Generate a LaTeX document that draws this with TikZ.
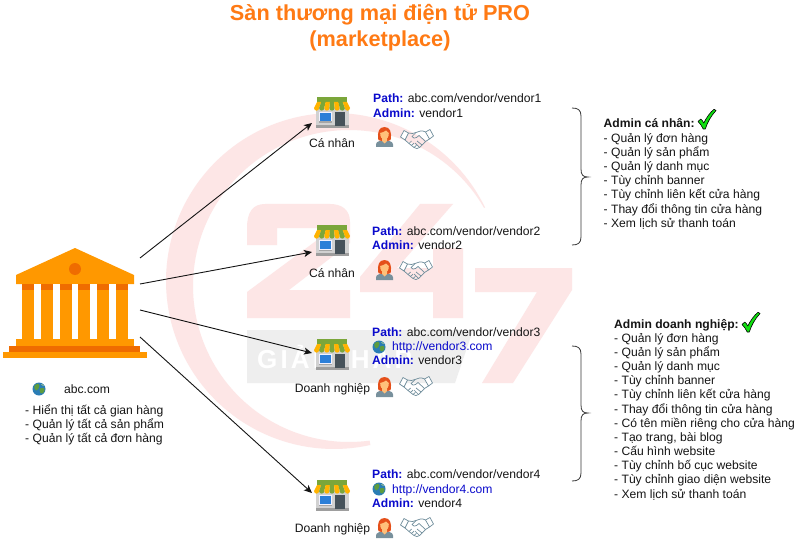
\documentclass[tikz,border=0pt]{standalone}
\usepackage{fontspec}
\setmainfont{Liberation Sans}
\usetikzlibrary{arrows.meta}
\definecolor{wm}{HTML}{FDE6E6}
\definecolor{wmgray}{HTML}{EEEEEE}
\definecolor{bankL}{HTML}{FF9800}
\definecolor{bankD}{HTML}{EF6C00}
\definecolor{titleC}{HTML}{FF7A14}
\definecolor{lab}{HTML}{0A0ACC}
\definecolor{ink}{HTML}{151515}
\definecolor{hs}{HTML}{6F8D9B}
\tikzset{
  txt/.style={anchor=base west,inner sep=0pt,text=ink,font=\fontsize{12.12}{14}\selectfont},
  ctxt/.style={txt,anchor=base},
  conn/.style={draw=ink,line width=0.9pt,-{Stealth[length=8pt,width=7pt,inset=2pt]}},
  brace/.style={draw=ink!85,line width=0.8pt},
  pics/vshop/.style={code={
    \fill[black!18] (2,11) rectangle (35,31);
    \fill[black!38] (2,28) rectangle (35,31);
    \fill[blue!5] (5,15) rectangle (18,26);
    \fill[black!35] (5,24.5) rectangle (18,26);
    \fill[HTML1] (6,16) rectangle (17,24);
    \fill[HTML2] (21,15) rectangle (31,29);
    \fill[HTML3] (3,0) rectangle (33,6);
    \foreach \i in {0,...,6}{
      \pgfmathsetmacro{\ta}{3+\i*30/7}\pgfmathsetmacro{\tb}{3+(\i+1)*30/7}
      \pgfmathsetmacro{\ba}{\i*36/7}\pgfmathsetmacro{\bb}{(\i+1)*36/7}
      \pgfmathtruncatemacro{\odd}{mod(\i,2)}
      \ifnum\odd=0 \def\cc{HTML4}\else\def\cc{HTML3}\fi
      \fill[\cc] (\ta,5) -- (\tb,5) -- (\bb,11) .. controls (\bb,14.5) and (\ba,14.5) .. (\ba,11) -- cycle;
    }
  }},
  pics/vperson/.style={code={
    \fill[HTML5] (0,20) -- (0,17.5) .. controls (0,14.5) and (4,13.5) .. (8.5,13.5) .. controls (13,13.5) and (17,14.5) .. (17,17.5) -- (17,20) -- cycle;
    \fill[HTML6] (2.4,13) .. controls (1,5) and (3,0) .. (8.5,0) .. controls (14,0) and (16,5) .. (14.6,13) .. controls (12,14.5) and (5,14.5) .. (2.4,13) -- cycle;
    \fill[HTML7] (6,11) -- (11,11) -- (11,14) -- (8.5,16.5) -- (6,14) -- cycle;
    \fill[HTML7] (4.2,6) .. controls (6.5,5.5) and (9,4.5) .. (10,3.5) .. controls (11,4.5) and (12,5.5) .. (12.8,6) .. controls (13,10) and (11,12.5) .. (8.5,12.5) .. controls (6,12.5) and (4,10) .. (4.2,6) -- cycle;
  }},
  pics/vhands/.style={code={
    \begin{scope}[draw=hs,line width=0.7pt,fill=white,line join=round]
    \filldraw (0.5,8) -- (4,1.5) -- (8.5,4) -- (5,11) -- cycle;
    \filldraw (33.5,7) -- (30,0.5) -- (25.5,3) -- (29.5,10) -- cycle;
    \draw (8.5,4) .. controls (11,5) and (14,4.5) .. (16,3.5) .. controls (19,2) and (22,1) .. (25.5,3);
    \draw (29.5,10) -- (25.5,12.5) -- (19.5,18.5) .. controls (18,20) and (16,19.8) .. (14,18.5) -- (9,14.5) -- (5,11);
    \draw (16,3.5) -- (12,7.5) .. controls (13,9.5) and (15,9.5) .. (16.5,8.5) -- (19,6.5) -- (25.5,12.5);
    \draw (11.5,12) -- (9,14.5);
    \draw (14,14.2) -- (11.3,16.5);
    \draw (16.5,16.3) -- (14,18.5);
    \draw (17,12) -- (22,16);
    \draw (15,14) -- (19.5,18.5);
    \end{scope}
  }},
  pics/vglobe/.style={code={
    \fill[HTML8] (0,0) circle (6.5);
    \fill[HTML9] (-4.5,-3.5) .. controls (-2,-6) and (1,-6) .. (0.5,-3.5) .. controls (0,-1) and (-1,2) .. (-3,1.5) .. controls (-5,0.5) and (-5,-2) .. (-4.5,-3.5) -- cycle;
    \fill[HTML9] (1,-0.5) .. controls (3,-2) and (6,-1.5) .. (5.5,1.5) .. controls (4.5,4.5) and (2,5.5) .. (1.5,4) .. controls (1,2) and (0,1) .. (1,-0.5) -- cycle;
    \fill[HTML9!60!white] (2,-5) .. controls (3.5,-5) and (5,-4) .. (5,-3) .. controls (3.5,-3) and (2.5,-4) .. (2,-5) -- cycle;
  }},
  pics/vcheck/.style={code={
    \filldraw[fill=HTML10,draw=black,line width=0.6pt,line join=round] (0,12.5) -- (2.8,10) .. controls (4,11) and (5,12.5) .. (5.8,14) .. controls (8.5,8.5) and (12,3.5) .. (16,0.3) -- (18,1.5) .. controls (13,7) and (9.5,13) .. (7.3,20) -- (5.2,20) .. controls (4,17) and (2,14.5) .. (0,12.5) -- cycle;
  }},
}
\definecolor{HTML1}{HTML}{2C7FD8}
\definecolor{HTML2}{HTML}{46525A}
\definecolor{HTML3}{HTML}{7BA63A}
\definecolor{HTML4}{HTML}{FFB300}
\definecolor{HTML5}{HTML}{78909C}
\definecolor{HTML6}{HTML}{E5501A}
\definecolor{HTML7}{HTML}{FFC07A}
\definecolor{HTML8}{HTML}{2A7DB5}
\definecolor{HTML9}{HTML}{5E9C3E}
\definecolor{HTML10}{HTML}{10E010}
\begin{document}
\begin{tikzpicture}[x=1pt,y=-1pt]
\useasboundingbox (0,0) rectangle (800,540);
\fill[white] (0,0) rectangle (800,540);
% watermark
\fill[wm] plot[domain=-26:-282.5,samples=120] ({334+168*cos(\x)},{281+168*sin(\x)})
  -- plot[domain=-277.6:-30,samples=120] ({349+156*cos(\x)},{286+156*sin(\x)}) -- cycle;
\fill[wmgray] (247,330) -- (473,330) -- (455,383) -- (247,383) -- cycle;
\fill[wm] (247,228) -- (247,245) -- (277,245) -- (277,228) -- (320,228) -- (320,238) -- (247,292) -- (247,318) -- (350,318) -- (350,290) -- (289,290) -- (350,243) -- (350,222) .. controls (350,210) and (342,204) .. (330,204) -- (265,204) .. controls (253,204) and (247,212) .. (247,228) -- cycle;
\fill[wm] (420,204) -- (453,204) -- (397,268) -- (433,268) -- (433,248) -- (463,248) -- (463,318) -- (433,318) -- (433,292) -- (360,292) -- (360,277) -- cycle;
\fill[wm] (475,268) -- (572,268) -- (572,290) -- (513,383) -- (482,383) -- (537,292) -- (475,292) -- cycle;
\node[anchor=base west,inner sep=0pt,text=white,font=\fontsize{26}{26}\selectfont\bfseries\addfontfeature{LetterSpace=12}] (wmtext) at (257,368) {GIẢI PHÁP};
% title
\node[anchor=base,inner sep=0pt,text=titleC,font=\fontsize{21.7}{26}\selectfont\bfseries] (title1) at (380,21) {Sàn thương mại điện tử PRO};
\node[anchor=base,inner sep=0pt,text=titleC,font=\fontsize{21.7}{26}\selectfont\bfseries] (title2) at (380,47) {(marketplace)};
% bank
\node[inner sep=0pt,minimum width=144pt,minimum height=110pt] (bank) at (75,303) {};
\fill[bankL] (75,248) -- (134,275) -- (134,284) -- (16,284) -- (16,275) -- cycle;
\fill[bankD] (75,269) circle (6);
\fill[bankD] (22,284) rectangle (128,290);
\fill[bankL] (16,339) rectangle (134,346);
\fill[bankD] (9,346) rectangle (140,352);
\fill[bankL] (3,352) rectangle (147,358);
\foreach \a/\b in {22/34,41/53,60/72,78/90,97/109,116/128}{
  \fill[bankL] (\a,290) rectangle (\b,339);
}
\foreach \a/\b in {34/41,53/60,72/78,90/97,109/116}{
  \fill[white] (\a,284) rectangle (\b,339);
}
\pic at (39,389) {vglobe};
\node[txt] (abc) at (64,393) {abc.com};
\foreach \t [count=\i] in {Hiển thị tất cả gian hàng,Quản lý tất cả sản phẩm,Quản lý tất cả đơn hàng}{
  \node[txt,name=m\i] at (25,{414+14.4*(\i-1)}) {- \t};
}
% shops
\foreach \n/\y in {1/97,2/225,3/339,4/480}{
  \pic at (314,\y) {vshop};
  \node[inner sep=0pt,minimum width=37pt,minimum height=31pt,anchor=north west] (shop\n) at (314,\y) {};
}
\node[ctxt] (c1) at (332,148) {Cá nhân};
\node[ctxt] (c2) at (332,277) {Cá nhân};
\node[ctxt] (c3) at (332.5,392) {Doanh nghiệp};
\node[ctxt] (c4) at (332.5,532) {Doanh nghiệp};
% connectors
\coordinate (s1) at (140,258); \coordinate (t1) at (312,123);
\coordinate (s2) at (140,284); \coordinate (t2) at (312,252);
\coordinate (s3) at (140,310); \coordinate (t3) at (312,353);
\coordinate (s4) at (140,337); \coordinate (t4) at (312,493);
\foreach \i in {1,...,4}{ \draw[conn] (s\i) -- (t\i); }
% vendor text
\node[txt] (p1) at (373,103) {\textcolor{lab}{\bfseries Path:} abc.com/vendor/vendor1};
\node[txt] (a1) at (373,118) {\textcolor{lab}{\bfseries Admin:} vendor1};
\node[txt] (p2) at (372,235) {\textcolor{lab}{\bfseries Path:} abc.com/vendor/vendor2};
\node[txt] (a2) at (372,249) {\textcolor{lab}{\bfseries Admin:} vendor2};
\node[txt] (p3) at (372,336) {\textcolor{lab}{\bfseries Path:} abc.com/vendor/vendor3};
\node[txt,text=lab] (u3) at (392,350) {http://vendor3.com};
\node[txt] (a3) at (372,364) {\textcolor{lab}{\bfseries Admin:} vendor3};
\node[txt] (p4) at (372,478) {\textcolor{lab}{\bfseries Path:} abc.com/vendor/vendor4};
\node[txt,text=lab] (u4) at (392,493) {http://vendor4.com};
\node[txt] (a4) at (372,507) {\textcolor{lab}{\bfseries Admin:} vendor4};
\pic at (379,347) {vglobe};
\pic at (379,489) {vglobe};
\pic at (376,127) {vperson};
\pic at (376,260) {vperson};
\pic at (376,377) {vperson};
\pic at (376,518) {vperson};
\pic at (400,129) {vhands};
\pic at (399,260) {vhands};
\pic at (399,376) {vhands};
\pic at (400,517) {vhands};
% braces
\draw[brace] (572,108) .. controls (578,108) and (581,110) .. (581,116) -- (581,169) .. controls (581,175) and (583,177) .. (588,177) .. controls (583,177) and (581,179) .. (581,185) -- (581,237) .. controls (581,243) and (578,245) .. (572,245);
\draw[brace] (572,346) .. controls (578,346) and (581,348) .. (581,354) -- (581,405) .. controls (581,411) and (583,413) .. (588,413) .. controls (583,413) and (581,415) .. (581,421) -- (581,473) .. controls (581,479) and (578,481) .. (572,481);
% admin lists
\node[txt,font=\fontsize{12.12}{14}\selectfont\bfseries] (h1) at (603.5,128) {Admin cá nhân:};
\pic at (698,109) {vcheck};
\foreach \t [count=\i] in {Quản lý đơn hàng,Quản lý sản phẩm,Quản lý danh mục,Tùy chỉnh banner,Tùy chỉnh liên kết cửa hàng,Thay đổi thông tin cửa hàng,Xem lịch sử thanh toán}{
  \node[txt,name=x\i] at (603.5,{128+14.2*\i}) {- \t};
}
\node[txt,font=\fontsize{12.12}{14}\selectfont\bfseries] (h2) at (614,328) {Admin doanh nghiệp:};
\pic at (742,312) {vcheck};
\foreach \t [count=\i] in {Quản lý đơn hàng,Quản lý sản phẩm,Quản lý danh mục,Tùy chỉnh banner,Tùy chỉnh liên kết cửa hàng,Thay đổi thông tin cửa hàng,Có tên miền riêng cho cửa hàng,{Tạo trang, bài blog},Cấu hình website,Tùy chỉnh bố cục website,Tùy chỉnh giao diện website,Xem lịch sử thanh toán}{
  \node[txt,name=y\i] at (614,{328+14.17*\i}) {- \t};
}
\end{tikzpicture}
\end{document}
